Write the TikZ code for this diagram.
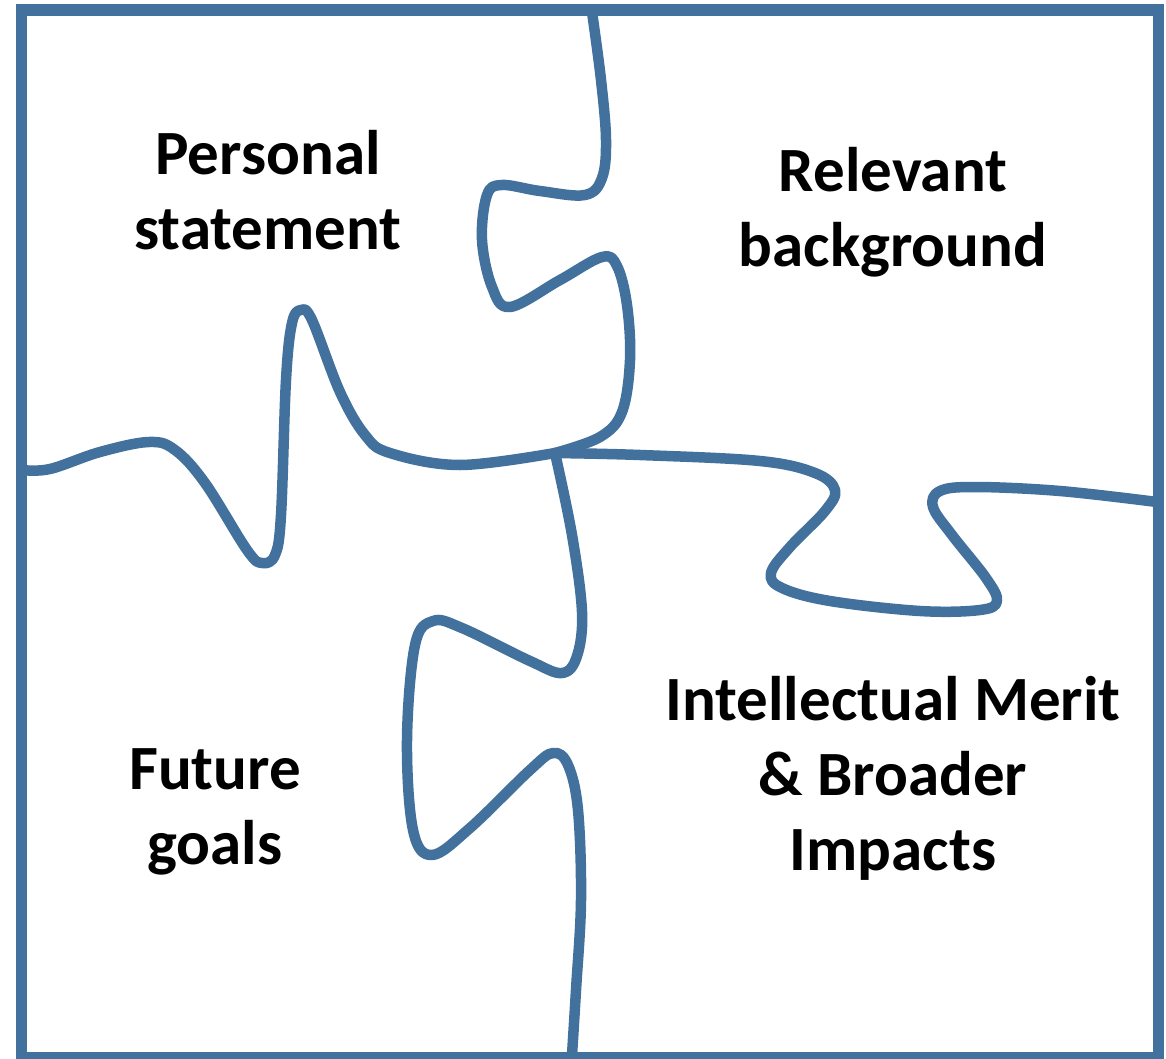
\documentclass[tikz,border=0pt]{standalone}
\usepackage{fontspec}
\setmainfont{Carlito}
\definecolor{puzzleblue}{HTML}{41719C}
\tikzset{
  frame/.style={draw=puzzleblue, line width=11.5pt},
  edge/.style={draw=puzzleblue, line width=10.5pt, line cap=round, line join=round},
  label/.style={align=center, font=\fontsize{63}{75}\selectfont\bfseries, text=black, inner sep=0pt}
}
\begin{document}
\begin{tikzpicture}[x=1pt,y=-1pt]
\useasboundingbox (0,0) rectangle (1166,1059);
\draw[frame] (21.5,10) rectangle (1158.5,1057.5);
\coordinate (J) at (555,453);
% top vertical edge
\draw[edge] plot[smooth, tension=0.6] coordinates {(592,12) (601,80) (606,140) (602,178) (585,195) (540,191) (502,185) (487,195) (482,240) (492,287) (510,307) (560,280) (602,257) (617,266) (627,305) (630,360) (622,412) (600,437) (J)};
% left horizontal edge
\draw[edge] plot[smooth, tension=0.6] coordinates {(22,470) (50,469) (100,452) (149,442) (175,450) (205,483) (247,550) (262,563) (275,555) (281,515) (286,380) (292,323) (301,310) (312,320) (340,392) (365,435) (390,453) (460,465) (J)};
% right horizontal edge
\draw[edge] plot[smooth, tension=0.6] coordinates {(J) (640,455) (760,461) (815,473) (835,490) (825,511) (790,547) (771,573) (782,588) (830,601) (920,611) (980,610) (997,601) (986,578) (952,535) (933,507) (940,491) (975,487) (1060,491) (1157,502)};
% bottom vertical edge
\draw[edge] plot[smooth, tension=0.6] coordinates {(J) (572,535) (582,612) (577,656) (562,673) (530,661) (462,628) (433,621) (415,645) (407,740) (413,830) (432,855) (470,828) (530,770) (553,753) (568,765) (578,810) (581,900) (576,990) (572,1055)};
\node[label] (ps) at (268,190) {Personal\\statement};
\node[label] (rb) at (893,212) {Relevant\\background};
\node[label] (fg) at (215,812) {Future\\goals};
\node[label] (im) at (893,778) {Intellectual Merit\\\& Broader\\Impacts};
\end{tikzpicture}
\end{document}
